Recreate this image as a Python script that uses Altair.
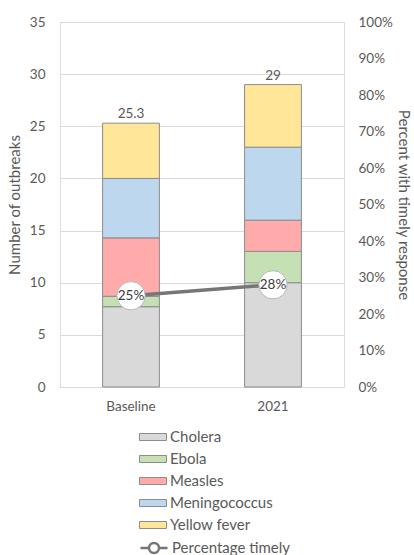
import altair as alt
import pandas as pd

# Outbreak counts per disease, baseline vs 2021
categories = ["Baseline", "2021"]
diseases = ["Cholera", "Ebola", "Measles", "Meningococcus", "Yellow fever"]
cholera = [7.7, 10]
ebola = [1.0, 3]
measles = [5.6, 3]
meningococcus = [5.7, 7]
yellow_fever = [5.3, 6]
totals = [25.3, 29]
pct_timely = [0.25, 0.28]
pct_ticks = [0, 0.1, 0.2, 0.3, 0.4, 0.5, 0.6, 0.7, 0.8, 0.9, 1.0]

colors = ["#d9d9d9", "#c5e0b4", "#ffabab", "#bdd7ee", "#ffe699"]
FONT = "Lato"
TXT = "#595959"

series = [cholera, ebola, measles, meningococcus, yellow_fever]
rows = []
for i, d in enumerate(diseases):
    for j, c in enumerate(categories):
        rows.append({"period": c, "disease": d, "idx": i, "count": series[i][j]})
bars_df = pd.DataFrame(rows)
tot_df = pd.DataFrame({"period": categories, "total": totals,
                       "label": ["25.3", "29"]})
pct_df = pd.DataFrame({"period": categories, "pct": pct_timely,
                       "series": ["Percentage timely"] * 2,
                       "label": [f"{round(p * 100)}%" for p in pct_timely]})

x_enc = alt.X("period:N", sort=categories, title=None,
              scale=alt.Scale(paddingInner=0.6, paddingOuter=0.3),
              axis=alt.Axis(labelAngle=0, ticks=False, domain=False,
                            labelPadding=12, labelFontSize=13.5,
                            labelFont=FONT, labelColor=TXT))

left_scale = alt.Scale(domain=[0, 35], nice=False)
left_axis = alt.Axis(values=list(range(0, 36, 5)), grid=True, gridColor="#d9d9d9",
                     ticks=False, domain=False, labelPadding=15,
                     labelFontSize=13.5, labelFont=FONT, labelColor=TXT,
                     labelOverlap=False,
                     title="Number of outbreaks", titleFont=FONT,
                     titleFontSize=15, titleFontWeight="normal",
                     titleColor=TXT, titlePadding=7)

rect_path = "M-1,-0.26H1V0.26H-1Z"
bars = alt.Chart(bars_df).mark_bar(stroke="#8c8c8c", strokeWidth=1).encode(
    x=x_enc,
    y=alt.Y("count:Q", stack="zero", scale=left_scale, axis=left_axis),
    fill=alt.Fill("disease:N", sort=diseases,
                  scale=alt.Scale(domain=diseases, range=colors),
                  legend=alt.Legend(title=None, orient="none", legendX=79,
                                    legendY=401, padding=0,
                                    symbolType=rect_path, symbolSize=729,
                                    symbolStrokeColor="#8c8c8c",
                                    symbolStrokeWidth=1, rowPadding=0,
                                    labelFont=FONT, labelFontSize=15,
                                    labelColor=TXT, labelOffset=3)),
    order=alt.Order("idx:Q", sort="ascending"),
)

total_text = alt.Chart(tot_df).mark_text(
    dy=-9, font=FONT, fontSize=13.5, color=TXT
).encode(x=alt.X("period:N", sort=categories),
         y=alt.Y("total:Q", scale=left_scale, axis=left_axis),
         text="label:N")

right_scale = alt.Scale(domain=[0, 1], nice=False)
right_axis = alt.Axis(orient="right", format=".0%", values=pct_ticks,
                      grid=False, ticks=False, domain=False, labelPadding=14,
                      labelFontSize=13.5, labelFont=FONT, labelColor=TXT,
                      labelOverlap=False,
                      title="Percent with timely response", titleFont=FONT,
                      titleFontSize=15, titleFontWeight="normal",
                      titleColor=TXT, titlePadding=3)

line_path = ("M-1,0H-0.37M0.37,0H1"
             "M0.37,0A0.37,0.37 0 1,1 -0.37,0A0.37,0.37 0 1,1 0.37,0Z")
line = alt.Chart(pct_df).mark_line(strokeWidth=3.5).encode(
    x=alt.X("period:N", sort=categories),
    y=alt.Y("pct:Q", scale=right_scale, axis=right_axis),
    stroke=alt.Stroke("series:N",
                      scale=alt.Scale(domain=["Percentage timely"], range=["#767676"]),
                      legend=alt.Legend(title=None, orient="none", legendX=79,
                                        legendY=511, padding=0,
                                        symbolType=line_path, symbolSize=729,
                                        symbolFillColor="white",
                                        symbolStrokeWidth=2.5,
                                        labelFont=FONT, labelFontSize=15,
                                        labelColor=TXT, labelOffset=3)),
)
points = alt.Chart(pct_df).mark_point(
    filled=True, fill="white", stroke="#b8b8b8", strokeWidth=1,
    size=800, opacity=1, shape="circle"
).encode(x=alt.X("period:N", sort=categories),
         y=alt.Y("pct:Q", scale=right_scale, axis=right_axis))
pct_text = alt.Chart(pct_df).mark_text(font=FONT, fontSize=13.5, color="#404040").encode(
    x=alt.X("period:N", sort=categories),
    y=alt.Y("pct:Q", scale=right_scale, axis=right_axis),
    text="label:N")

left = alt.layer(bars, total_text)
right = alt.layer(line, points, pct_text)

chart = alt.layer(left, right).resolve_scale(y="independent").properties(
    width=284, height=365,
    autosize=alt.AutoSizeParams(type="none"),
    padding={"left": 60, "top": 22, "right": 70, "bottom": 168},
).configure_view(stroke=None).configure(background="white")

chart.save("out.html", embed_options={"renderer": "svg", "actions": False})
